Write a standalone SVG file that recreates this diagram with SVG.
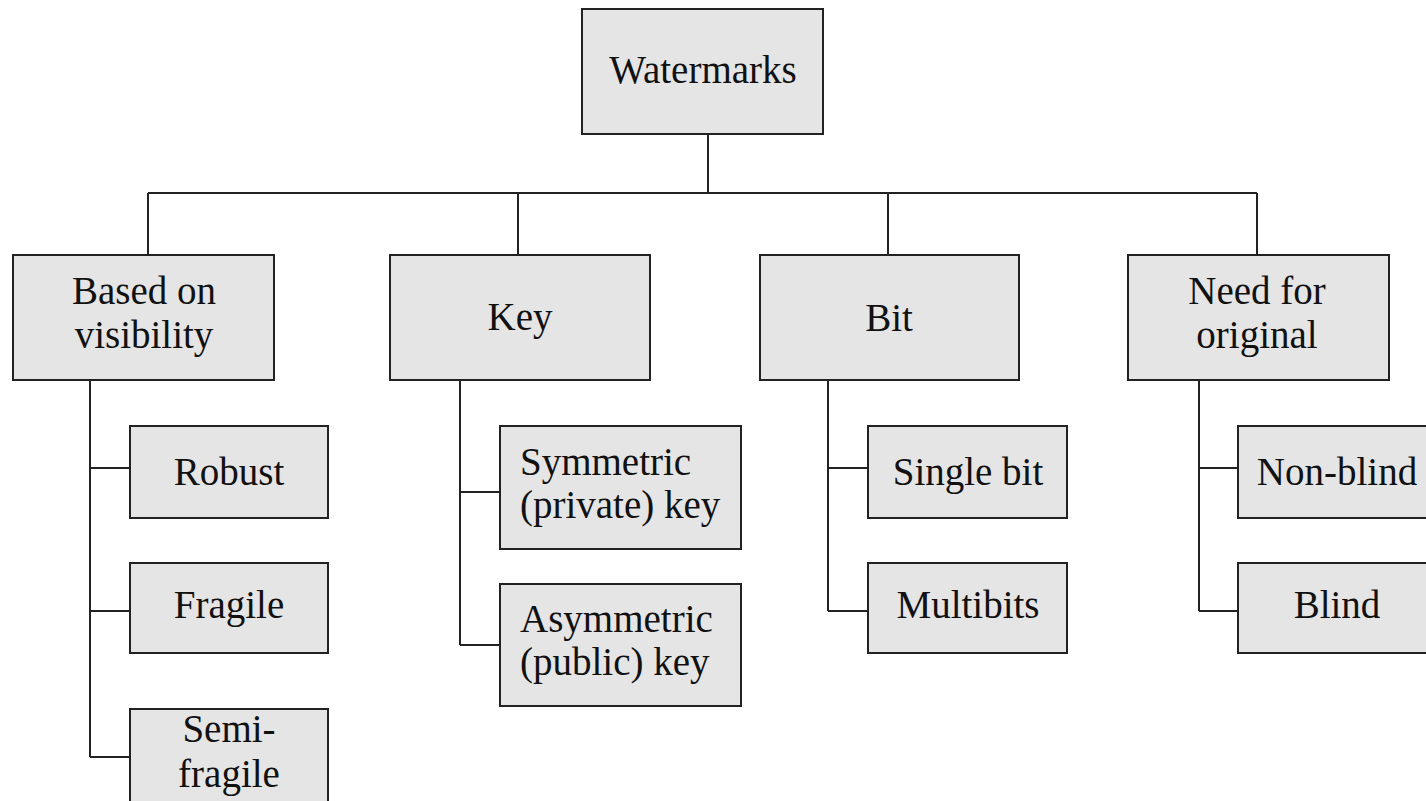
<svg xmlns="http://www.w3.org/2000/svg" width="1426" height="801" viewBox="0 0 1426 801">
  <style>
    .box { fill: #e5e5e5; stroke: #222; stroke-width: 2; }
    .lbl { font-family: "Liberation Serif", "Times New Roman", serif; font-size: 39px; fill: #111; }
    .mid { text-anchor: middle; }
    .wire { fill: none; stroke: #222; stroke-width: 2; }
  </style>
  <rect width="1426" height="801" fill="#fff"/>

  <!-- tree connectors -->
  <g id="connectors">
    <path class="wire" d="M708 134 V193 M148 193 H1257 M148 193 V255 M518 193 V255 M888 193 V255 M1257 193 V255"/>
    <path class="wire" d="M90 380 V757 M90 468 H130 M90 611 H130 M90 757 H130"/>
    <path class="wire" d="M460 380 V645 M460 492 H500 M460 645 H500"/>
    <path class="wire" d="M828 380 V611 M828 468 H868 M828 611 H868"/>
    <path class="wire" d="M1199 380 V611 M1199 468 H1238 M1199 611 H1238"/>
  </g>

  <!-- root -->
  <g id="watermarks">
    <rect class="box" x="582" y="9" width="241" height="125"/>
    <text class="lbl mid" x="703" y="83">Watermarks</text>
  </g>

  <!-- categories -->
  <g id="visibility">
    <rect class="box" x="13" y="255" width="261" height="125"/>
    <text class="lbl mid" x="144" y="304">Based on</text>
    <text class="lbl mid" x="144" y="348">visibility</text>
  </g>
  <g id="key">
    <rect class="box" x="390" y="255" width="260" height="125"/>
    <text class="lbl mid" x="520" y="330">Key</text>
  </g>
  <g id="bit">
    <rect class="box" x="760" y="255" width="259" height="125"/>
    <text class="lbl mid" x="889" y="331">Bit</text>
  </g>
  <g id="original">
    <rect class="box" x="1128" y="255" width="261" height="125"/>
    <text class="lbl mid" x="1257" y="304">Need for</text>
    <text class="lbl mid" x="1257" y="348">original</text>
  </g>

  <!-- visibility leaves -->
  <g id="robust">
    <rect class="box" x="130" y="426" width="198" height="92"/>
    <text class="lbl mid" x="229" y="485">Robust</text>
  </g>
  <g id="fragile">
    <rect class="box" x="130" y="563" width="198" height="90"/>
    <text class="lbl mid" x="229" y="618">Fragile</text>
  </g>
  <g id="semi-fragile">
    <rect class="box" x="130" y="709" width="198" height="110"/>
    <text class="lbl mid" x="229" y="742">Semi-</text>
    <text class="lbl mid" x="229" y="787">fragile</text>
  </g>

  <!-- key leaves -->
  <g id="symmetric">
    <rect class="box" x="500" y="426" width="241" height="123"/>
    <text class="lbl" x="520" y="475">Symmetric</text>
    <text class="lbl" x="520" y="518">(private) key</text>
  </g>
  <g id="asymmetric">
    <rect class="box" x="500" y="584" width="241" height="122"/>
    <text class="lbl" x="520" y="632">Asymmetric</text>
    <text class="lbl" x="520" y="675">(public) key</text>
  </g>

  <!-- bit leaves -->
  <g id="single-bit">
    <rect class="box" x="868" y="426" width="199" height="92"/>
    <text class="lbl mid" x="968" y="485">Single bit</text>
  </g>
  <g id="multibits">
    <rect class="box" x="868" y="563" width="199" height="90"/>
    <text class="lbl mid" x="968" y="618">Multibits</text>
  </g>

  <!-- original leaves -->
  <g id="non-blind">
    <rect class="box" x="1238" y="426" width="199" height="92"/>
    <text class="lbl mid" x="1337" y="485">Non-blind</text>
  </g>
  <g id="blind">
    <rect class="box" x="1238" y="563" width="199" height="90"/>
    <text class="lbl mid" x="1337" y="618">Blind</text>
  </g>
</svg>
